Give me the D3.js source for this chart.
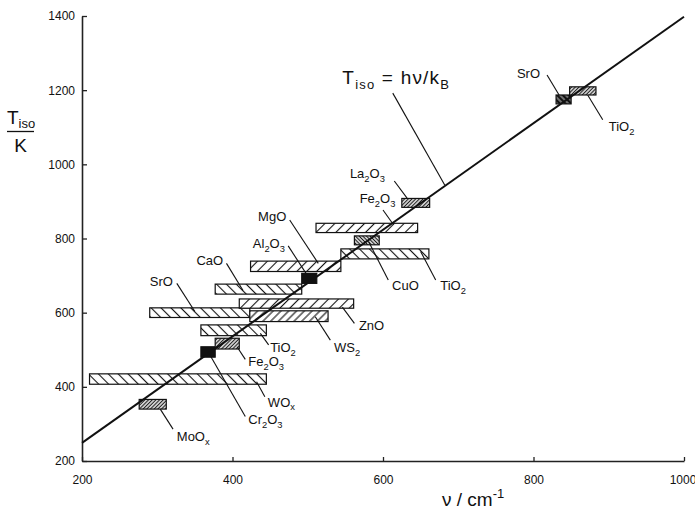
<!DOCTYPE html>
<html>
<head>
<meta charset="utf-8">
<script src="https://cdn.jsdelivr.net/npm/d3@7"></script>
<style>
  body { margin: 0; background: #fff; }
  text { font-family: "Liberation Sans", Arial, sans-serif; fill: #111; }
</style>
</head>
<body>
<div id="chart"></div>
<script>
// boxes: wavenumber range (cm-1) and isomerisation temperature range (K)
const names = ["MoO_x", "WO_x", "Cr_2O_3", "Fe_2O_3", "TiO_2", "SrO", "WS_2", "ZnO", "CaO",
  "Al_2O_3", "MgO", "TiO_2", "CuO", "Fe_2O_3", "La_2O_3", "SrO", "TiO_2"];
const nuLo = [276, 210, 358, 377, 358, 290, 423, 409, 377, 492, 424, 544, 562, 511, 625, 830, 848];
const nuHi = [312, 445, 377, 409, 445, 423, 527, 561, 492, 512, 544, 661, 595, 646, 662, 850, 883];
const tLo = [340, 407, 480, 502, 538, 587, 576, 612, 650, 679, 711, 745, 783, 816, 884, 1163, 1187];
const tHi = [366, 435, 508, 531, 567, 613, 605, 637, 677, 706, 739, 772, 807, 841, 908, 1187, 1209];

// fill style for each box
const fills = ["denseR", "lightL", "black", "denseR", "lightL", "lightL", "lightR2", "lightR", "lightL",
  "black", "lightR", "lightL", "denseL", "lightR", "denseR", "dark", "denseR"];

// label anchors and leader lines, in data units (nu, T)
const labelNu = [326, 447, 421, 421, 450, 290, 535, 568, 352, 427, 434, 676, 612, 569, 556, 778, 900];
const labelT = [254, 346, 300, 455, 493, 672, 494, 553, 729, 774, 847, 661, 661, 896, 963, 1233, 1090];
const leaders = [
  [321, 286, 304, 340], [443, 373, 432, 414], [417, 320, 370, 486], [417, 474, 406, 508],
  [448, 513, 437, 544], [326, 679, 350, 603], [530, 526, 510, 589], [562, 571, 546, 615],
  [392, 733, 414, 660], [474, 780, 499, 702], [476, 850, 514, 733], [670, 688, 650, 765],
  [607, 688, 581, 791], [600, 877, 614, 837], [615, 955, 632, 909], [818, 1241, 834, 1187],
  [872, 1187, 892, 1120]
];

// T_iso = h nu / k_B line
const lineNu = [200, 1000];
const lineT = [249, 1398];

const xTicks = [200, 400, 600, 800, 1000];
const yTicks = [200, 400, 600, 800, 1000, 1200, 1400];

const margin = { top: 16, right: 11, bottom: 48, left: 82 };
const width = 695 - margin.left - margin.right;
const height = 509 - margin.top - margin.bottom;

const svg = d3.select("#chart")
  .append("svg")
  .attr("width", 695)
  .attr("height", 509);

const defs = svg.append("defs");

function addHatch(id, angle, spacing, stroke, sw, bg) {
  const p = defs.append("pattern")
    .attr("id", id)
    .attr("patternUnits", "userSpaceOnUse")
    .attr("width", spacing)
    .attr("height", spacing)
    .attr("patternTransform", "rotate(" + angle + ")");
  p.append("rect").attr("width", spacing).attr("height", spacing).attr("fill", bg);
  p.append("line")
    .attr("x1", spacing / 2).attr("y1", 0)
    .attr("x2", spacing / 2).attr("y2", spacing)
    .attr("stroke", stroke)
    .attr("stroke-width", sw);
}
addHatch("lightR", 45, 7, "#111", 1.1, "#fff");
addHatch("lightR2", 45, 5.5, "#111", 1.1, "#fff");
addHatch("lightL", -45, 7, "#111", 1.1, "#fff");
addHatch("denseR", 45, 2.6, "#1a1a1a", 1.25, "#fff");
addHatch("denseL", -45, 2.6, "#1a1a1a", 1.25, "#fff");
addHatch("dark", -45, 4, "#fff", 0.8, "#111");

const chart = svg.append("g")
  .attr("transform", "translate(" + margin.left + "," + margin.top + ")");

const x = d3.scaleLinear().domain([200, 1000]).range([0, width]);
const y = d3.scaleLinear().domain([200, 1400]).range([height, 0]);

// axes
const xAxis = chart.append("g")
  .attr("transform", "translate(0," + height + ")")
  .call(d3.axisBottom(x).tickValues(xTicks).tickFormat(d3.format("d"))
    .tickSizeInner(-4).tickSizeOuter(0).tickPadding(14));
const yAxis = chart.append("g")
  .call(d3.axisLeft(y).tickValues(yTicks).tickFormat(d3.format("d"))
    .tickSizeInner(-5).tickSizeOuter(0).tickPadding(7));

[xAxis, yAxis].forEach(function (a) {
  a.select(".domain").attr("stroke", "#222").attr("stroke-width", 1.6);
  a.selectAll(".tick line").attr("stroke", "#222").attr("stroke-width", 1.3);
  a.selectAll("text")
    .style("font-family", "'Liberation Sans', Arial, sans-serif")
    .style("font-size", "12px")
    .attr("fill", "#111");
});
// last x label sits at the page edge
xAxis.selectAll(".tick text").filter((d) => d === 1000).attr("dx", -1.5);

// formula text with subscripts: "Fe_2O_3"
function formula(sel, str, fs) {
  const parts = str.split(/(_.)/).filter((s) => s.length);
  let sub = false;
  parts.forEach(function (p) {
    if (p[0] === "_") {
      sel.append("tspan").attr("font-size", fs * 0.72).attr("dy", sub ? 0 : fs * 0.28).text(p[1]);
      sub = true;
    } else {
      sel.append("tspan").attr("font-size", fs).attr("dy", sub ? -fs * 0.28 : 0).text(p);
      sub = false;
    }
  });
}

// boxes
const data = names.map((n, i) => ({
  name: n, nu0: nuLo[i], nu1: nuHi[i], t0: tLo[i], t1: tHi[i], fill: fills[i],
  lx: labelNu[i], ly: labelT[i], lead: leaders[i]
}));

chart.selectAll(".box")
  .data(data)
  .join("rect")
  .attr("class", "box")
  .attr("x", (d) => x(d.nu0))
  .attr("y", (d) => y(d.t1))
  .attr("width", (d) => x(d.nu1) - x(d.nu0))
  .attr("height", (d) => y(d.t0) - y(d.t1))
  .attr("fill", (d) => (d.fill === "black" ? "#111" : "url(#" + d.fill + ")"))
  .attr("stroke", "#111")
  .attr("stroke-width", 1.2);

// main line
chart.append("line")
  .attr("x1", x(lineNu[0])).attr("y1", y(lineT[0]))
  .attr("x2", x(lineNu[1])).attr("y2", y(lineT[1]))
  .attr("stroke", "#111")
  .attr("stroke-width", 2);

// leaders
chart.selectAll(".lead")
  .data(data)
  .join("line")
  .attr("class", "lead")
  .attr("x1", (d) => x(d.lead[0])).attr("y1", (d) => y(d.lead[1]))
  .attr("x2", (d) => x(d.lead[2])).attr("y2", (d) => y(d.lead[3]))
  .attr("stroke", "#111")
  .attr("stroke-width", 1.1);

// labels
chart.selectAll(".lab")
  .data(data)
  .join("text")
  .attr("class", "lab")
  .attr("x", (d) => x(d.lx))
  .attr("y", (d) => y(d.ly))
  .each(function (d) { formula(d3.select(this), d.name, 13); });

// T_iso = h nu / k_B label
chart.append("line")
  .attr("x1", x(613)).attr("y1", y(1192))
  .attr("x2", x(682)).attr("y2", y(944))
  .attr("stroke", "#111").attr("stroke-width", 1.1);
const eq = chart.append("text").attr("x", x(546)).attr("y", y(1217))
  .style("letter-spacing", "1.2px");
eq.append("tspan").attr("font-size", 19).text("T");
eq.append("tspan").attr("font-size", 13).attr("dy", 5).text("iso");
eq.append("tspan").attr("font-size", 19).attr("dy", -5).text(" = h\u03bd/k");
eq.append("tspan").attr("font-size", 13).attr("dy", 5).text("B");

// y axis title: T_iso over K
const yl = svg.append("text").attr("x", 7).attr("y", 124);
yl.append("tspan").attr("font-size", 19).text("T");
yl.append("tspan").attr("font-size", 13).attr("dy", 4).text("iso");
svg.append("line")
  .attr("x1", 7).attr("x2", 34).attr("y1", 131.5).attr("y2", 131.5)
  .attr("stroke", "#111").attr("stroke-width", 1.3);
svg.append("text").attr("x", 20.5).attr("y", 152)
  .attr("text-anchor", "middle").attr("font-size", 19).text("K");

// x axis title
const xl = svg.append("text").attr("x", 442).attr("y", 506);
xl.append("tspan").attr("font-size", 19).text("\u03bd / cm");
xl.append("tspan").attr("font-size", 13).attr("dy", -8).text("-1");
</script>
</body>
</html>
